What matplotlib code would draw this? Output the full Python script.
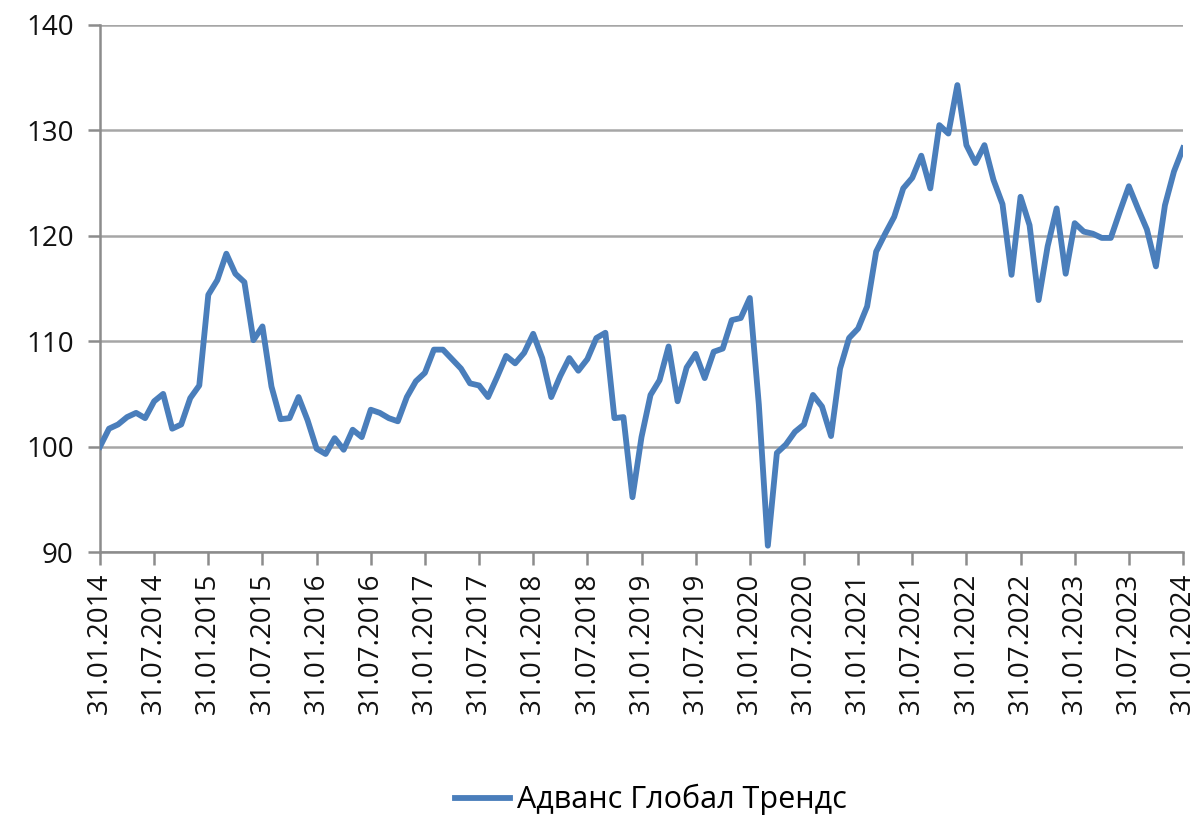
import numpy as np
import matplotlib
matplotlib.use("Agg")
import matplotlib.pyplot as plt

plt.rcParams['font.family'] = ['Open Sans', 'DejaVu Sans']

# monthly values, 31.01.2014 .. 31.01.2024
values = [
    100.0, 101.7, 102.1, 102.8, 103.2, 102.7, 104.3, 105.0, 101.7, 102.1, 104.6, 105.8,
    114.4, 115.8, 118.3, 116.4, 115.6, 110.1, 111.4, 105.7, 102.6, 102.7, 104.7, 102.5,
    99.8, 99.3, 100.8, 99.7, 101.6, 100.9, 103.5, 103.2, 102.7, 102.4, 104.7, 106.2,
    107.0, 109.2, 109.2, 108.3, 107.4, 106.0, 105.8, 104.7, 106.6, 108.6, 107.9, 108.9,
    110.7, 108.4, 104.7, 106.7, 108.4, 107.2, 108.3, 110.3, 110.8, 102.7, 102.8, 95.2,
    100.9, 104.9, 106.3, 109.5, 104.3, 107.5, 108.8, 106.5, 109.0, 109.3, 112.0, 112.2,
    114.1, 104.0, 90.6, 99.4, 100.2, 101.4, 102.1, 104.9, 103.8, 101.0, 107.4, 110.3,
    111.2, 113.3, 118.5, 120.2, 121.8, 124.5, 125.5, 127.6, 124.5, 130.5, 129.7, 134.3,
    128.6, 126.9, 128.6, 125.3, 123.0, 116.3, 123.7, 121.0, 113.9, 119.0, 122.6, 116.4,
    121.2, 120.4, 120.2, 119.8, 119.8, 122.3, 124.7, 122.6, 120.6, 117.1, 122.9, 126.1,
    128.3,
]
series_name = "Адванс Глобал Трендс"
tick_labels = [f"31.{m}.{y}" for y in range(2014, 2025) for m in ("01", "07")][:-1]
y_ticks = [90, 100, 110, 120, 130, 140]

months = np.arange(len(values))

fig = plt.figure(figsize=(12, 8.22), dpi=100)
ax = fig.add_axes([100 / 1200, 1 - 552 / 822, 1083 / 1200, 527 / 822])

ax.plot(months, values, color="#4a7ebb", lw=4.2, solid_joinstyle="round",
        label=series_name, zorder=3)

ax.set_xlim(0, 120)
ax.set_ylim(90, 140)
ax.set_yticks(y_ticks)
ax.set_xticks(np.arange(0, 121, 6))
ax.set_xticklabels(tick_labels, rotation=90)

ax.grid(axis="y", color="#a6a6a6", lw=1.8)
ax.set_axisbelow(True)
for s in ("top", "right"):
    ax.spines[s].set_visible(False)
for s in ("left", "bottom"):
    ax.spines[s].set_color("#8c8c8c")
    ax.spines[s].set_linewidth(1.8)
ax.tick_params(axis="both", colors="#8c8c8c", width=1.8, length=9,
               labelsize=20, labelcolor="#111111")
ax.tick_params(axis="y", pad=10)
ax.tick_params(axis="x", pad=6)

fig.legend(loc="center", bbox_to_anchor=(0.5425, 0.027), frameon=False,
           fontsize=22, handlelength=1.8, handletextpad=0.25)

fig.savefig("out.png", dpi=100)
